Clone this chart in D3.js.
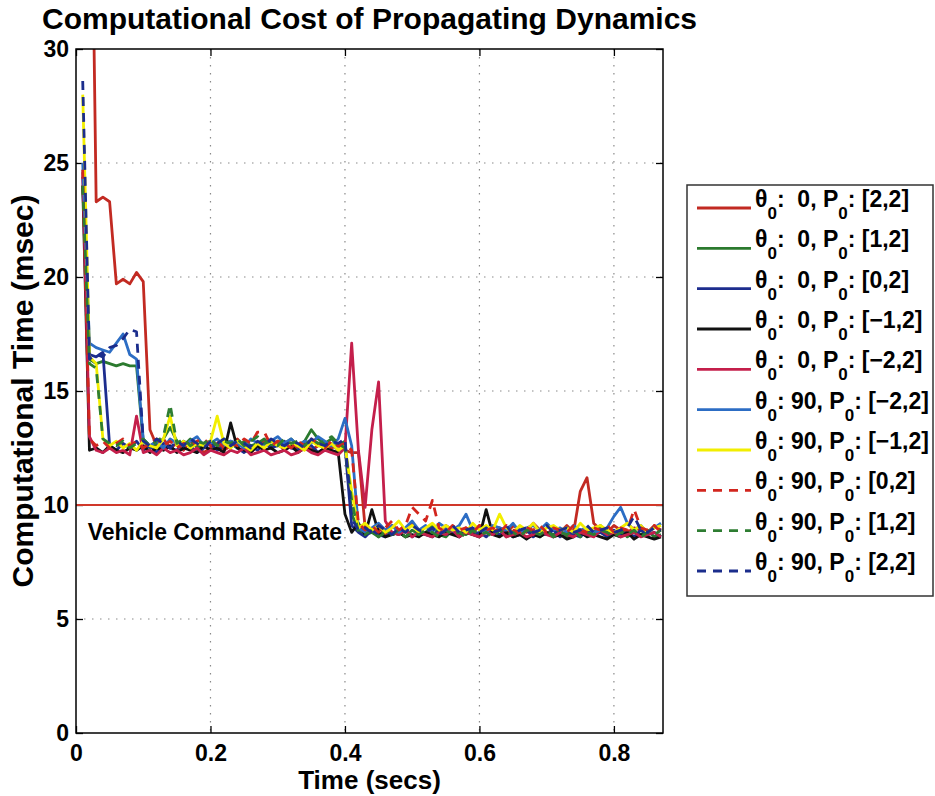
<!DOCTYPE html>
<html>
<head>
<meta charset="utf-8">
<script src="https://cdn.jsdelivr.net/npm/d3@7/dist/d3.min.js"></script>
<style>
  html, body { margin: 0; padding: 0; background: #fff; }
  svg { display: block; }
  text { font-family: "Liberation Sans", Arial, Helvetica, sans-serif; font-weight: bold; fill: #000; }
</style>
</head>
<body>
<svg id="chart" width="935" height="796"></svg>
<script>
// Sample times (s)
const times = [0.01,0.02,0.03,0.04,0.05,0.06,0.07,0.08,0.09,0.10,
  0.11,0.12,0.13,0.14,0.15,0.16,0.17,0.18,0.19,0.20,
  0.21,0.22,0.23,0.24,0.25,0.26,0.27,0.28,0.29,0.30,
  0.31,0.32,0.33,0.34,0.35,0.36,0.37,0.38,0.39,0.40,
  0.41,0.42,0.43,0.44,0.45,0.46,0.47,0.48,0.49,0.50,
  0.51,0.52,0.53,0.54,0.55,0.56,0.57,0.58,0.59,0.60,
  0.61,0.62,0.63,0.64,0.65,0.66,0.67,0.68,0.69,0.70,
  0.71,0.72,0.73,0.74,0.75,0.76,0.77,0.78,0.79,0.80,
  0.81,0.82,0.83,0.84,0.85,0.86,0.87];

// Computational time (msec) per run
const th0_p22 = [null,45,23.3,23.5,23.3,19.7,19.9,19.7,20.2,19.8,
  13.3,12.6,12.9,12.5,12.7,12.4,12.8,12.6,12.3,12.5,
  12.7,12.4,12.6,12.9,12.5,12.3,12.6,12.8,12.5,12.7,
  12.4,12.6,12.5,12.8,12.4,12.6,12.7,12.5,12.6,12.4,
  12.3,12.3,9.0,8.8,9.0,8.7,9.1,8.9,8.8,9.2,
  8.9,8.7,9.0,8.8,9.1,8.9,8.7,9.0,8.8,9.1,
  8.9,8.8,9.0,8.7,9.1,8.9,8.8,9.2,8.9,8.7,
  9.0,8.8,9.1,8.8,10.6,11.2,9.2,8.9,8.8,9.1,
  8.9,8.8,9.0,8.9,8.8,9.1,8.9];
const th0_p12 = [24.0,16.4,16.2,16.3,16.2,16.1,16.2,16.1,16.1,12.8,
  12.5,12.7,12.9,13.4,12.8,12.6,12.9,12.5,12.7,12.8,
  12.6,12.9,12.7,12.5,12.8,12.6,12.7,12.9,12.6,12.8,
  12.7,12.9,12.6,12.8,13.3,12.9,12.7,12.9,12.6,12.8,
  9.6,8.9,8.7,8.8,8.6,8.9,8.7,8.8,8.6,8.9,
  8.7,8.8,9.1,8.7,8.6,8.9,8.8,8.7,8.9,8.6,
  8.8,8.7,8.9,8.6,8.8,8.7,8.9,8.8,8.6,8.8,
  8.7,8.9,8.6,8.8,8.7,8.9,8.8,9.1,8.7,8.8,
  8.9,8.6,8.8,8.7,8.9,8.6,8.7];
const th0_p02 = [24.4,16.6,16.5,16.7,12.6,12.4,12.7,12.5,12.8,12.4,
  12.6,12.3,12.7,12.5,12.4,12.8,12.6,12.3,12.5,12.7,
  12.4,12.6,12.8,12.5,12.3,12.6,12.4,12.7,12.5,12.6,
  12.8,12.5,12.4,12.7,12.6,12.3,12.5,12.7,12.4,12.6,
  9.1,8.8,8.6,8.9,8.7,8.6,8.8,8.7,8.9,8.6,
  8.8,8.7,8.6,8.9,8.7,8.8,8.6,8.9,8.7,8.8,
  8.6,8.9,8.7,8.8,8.6,8.7,8.9,8.6,8.8,8.7,
  8.9,8.6,8.8,8.7,8.6,8.9,8.7,8.8,8.6,8.9,
  8.7,8.8,8.6,8.9,8.7,8.8,8.6];
const th0_pm12 = [24.0,12.4,12.5,12.3,12.6,12.4,12.3,12.5,12.4,12.6,
  12.3,12.5,12.4,12.6,12.3,12.5,12.4,12.3,12.6,12.4,
  12.5,12.3,13.6,12.5,12.4,12.3,12.6,12.4,12.5,12.3,
  12.4,12.6,12.3,12.5,12.4,12.3,12.5,12.4,12.3,9.6,
  8.8,9.2,8.7,9.8,8.8,8.6,8.7,8.8,8.6,8.7,
  8.6,8.8,8.7,8.6,8.8,8.7,8.6,8.8,8.7,8.6,
  9.8,8.7,8.6,8.8,8.6,8.7,8.5,8.7,8.6,8.8,
  8.6,8.7,8.5,8.6,8.8,8.6,8.7,8.6,8.5,8.7,
  8.6,8.8,8.5,8.7,8.6,8.5,8.6];
const th0_pm22 = [24.6,13.0,12.4,12.3,12.5,12.3,12.4,12.2,13.9,12.3,
  12.4,12.2,12.5,12.3,12.4,12.2,12.3,12.5,12.2,12.4,
  12.3,12.2,12.4,12.3,12.5,12.2,12.3,12.4,12.2,12.3,
  12.4,12.2,12.3,12.5,12.3,12.2,12.4,12.3,12.2,12.5,
  17.1,12.4,9.9,13.3,15.4,9.3,8.8,8.7,8.9,8.6,
  8.8,8.7,8.6,8.8,8.7,8.9,8.6,8.8,8.7,8.6,
  8.8,8.7,8.9,8.6,8.7,8.8,8.6,8.7,8.9,8.7,
  8.6,8.8,8.7,8.6,8.8,8.7,8.6,8.9,8.7,8.8,
  8.6,8.7,8.8,8.6,8.7,8.8,8.6];
const th90_pm22 = [25.0,17.1,16.9,16.8,16.7,17.1,17.5,16.6,16.4,12.9,
  12.6,12.8,12.5,12.9,12.7,12.6,12.8,13.0,12.6,12.7,
  12.9,12.6,12.8,12.7,12.5,12.9,12.7,12.6,12.8,13.0,
  12.7,12.9,12.6,12.8,12.7,13.0,12.8,12.6,12.9,13.8,
  12.6,9.0,8.8,9.0,9.2,8.9,9.1,8.8,9.0,9.3,
  8.9,9.1,8.8,9.2,9.0,8.9,9.1,9.6,8.9,9.0,
  8.8,9.1,9.0,8.9,9.2,8.8,9.0,9.1,8.9,9.2,
  8.9,9.0,8.8,9.1,8.9,9.0,8.8,8.9,9.0,9.5,
  9.9,9.2,8.9,9.1,8.8,9.0,9.2];
const th90_pm12 = [28.0,16.5,16.2,12.9,12.6,12.8,12.5,12.7,12.4,12.8,
  12.6,12.5,12.9,13.9,12.6,12.8,12.5,12.7,12.6,12.8,
  13.9,12.7,12.5,12.8,12.6,12.4,12.7,12.5,12.8,12.6,
  12.5,12.7,12.6,12.4,12.8,12.6,12.5,12.7,12.4,12.6,
  10.6,9.0,9.2,8.9,9.1,8.8,9.0,9.3,8.9,9.1,
  8.8,9.0,9.2,8.9,9.1,8.9,9.0,8.8,9.2,8.9,
  9.1,8.9,9.6,9.0,8.8,9.1,8.9,9.2,8.8,9.0,
  9.1,8.9,9.0,8.8,9.2,8.9,9.0,9.1,8.9,8.8,
  9.0,9.2,8.9,9.1,8.8,9.0,9.1];
const th90_p02 = [24.7,12.9,12.6,12.8,12.5,12.7,12.9,12.6,12.8,12.5,
  12.7,12.9,12.6,12.8,12.5,12.7,12.6,12.8,12.9,12.6,
  12.8,12.5,12.7,12.6,12.9,12.7,13.2,13.2,12.6,12.8,
  12.7,12.5,12.8,12.6,12.9,12.7,12.5,12.8,12.6,12.7,
  12.4,9.2,8.9,9.1,8.8,9.0,9.3,8.9,9.1,9.9,
  9.6,9.3,10.2,9.0,8.8,9.1,8.9,9.0,8.8,9.1,
  8.9,9.0,8.8,9.1,8.9,8.8,9.0,8.9,9.1,8.8,
  9.0,8.9,8.8,9.1,8.9,8.8,9.0,8.9,9.1,8.8,
  9.0,8.9,9.8,9.0,8.9,9.1,8.8];
const th90_p12 = [24.0,16.2,16.0,12.9,12.7,12.6,12.8,12.5,12.7,12.9,
  12.6,12.8,13.0,14.4,12.7,12.9,12.6,12.8,12.7,12.9,
  12.6,12.8,12.7,12.9,12.6,12.8,13.0,12.7,12.8,12.6,
  12.9,12.7,12.8,12.6,12.9,12.7,12.8,13.0,12.7,12.5,
  10.2,8.8,8.7,8.9,8.6,8.8,8.7,8.9,8.6,8.8,
  8.7,8.9,8.8,8.6,8.9,8.7,8.8,8.6,8.9,8.7,
  8.8,8.6,8.9,8.7,8.8,8.6,8.9,8.8,8.7,8.9,
  8.6,8.8,8.7,8.9,8.6,8.8,8.7,8.9,8.8,8.6,
  8.8,8.7,8.9,8.6,8.8,8.7,8.9];
const th90_p22 = [28.6,16.4,16.6,16.5,16.9,17.0,17.3,17.7,17.6,12.8,
  12.6,12.9,12.7,12.5,12.8,12.6,12.9,12.7,12.5,12.8,
  12.7,12.9,12.6,12.8,12.7,12.5,12.8,12.6,12.9,12.7,
  12.6,12.8,12.7,12.5,12.9,12.7,12.6,12.8,12.7,12.9,
  9.4,8.9,9.0,8.8,9.1,8.9,8.7,9.0,8.8,9.1,
  8.9,8.8,9.0,8.7,8.9,9.1,8.8,8.9,9.0,8.8,
  9.0,8.8,8.9,9.1,8.7,8.9,9.0,8.8,8.9,9.1,
  8.8,8.9,9.0,8.8,8.9,9.1,8.8,8.9,9.0,8.8,
  8.9,9.0,9.5,8.9,8.8,9.0,8.9];

// Legend entries
const theta0 = ["0", "0", "0", "0", "0", "90", "90", "90", "90", "90"];
const p0 = ["[2,2]", "[1,2]", "[0,2]", "[\u22121,2]", "[\u22122,2]", "[\u22122,2]", "[\u22121,2]", "[0,2]", "[1,2]", "[2,2]"];
const runs = [th0_p22, th0_p12, th0_p02, th0_pm12, th0_pm22, th90_pm22, th90_pm12, th90_p02, th90_p12, th90_p22];
const colors = ["#c22a22", "#2b7a2e", "#1d2d8e", "#111111", "#c41f4b", "#2c6dc4", "#f2ee00", "#d2261e", "#2e7d32", "#1b2d8c"];
const dashed = [false, false, false, false, false, false, false, true, true, true];

const commandRate = 10;            // msec
const xTicks = [0, 0.2, 0.4, 0.6, 0.8];
const yTicks = [0, 5, 10, 15, 20, 25, 30];

const svg = d3.select("#chart");
const L = 76, R = 663, T = 49, B = 733;

const x = d3.scaleLinear().domain([0, 0.873]).range([L, R]);
const y = d3.scaleLinear().domain([0, 30]).range([B, T]);

// Title
svg.append("text").attr("x", (L + R) / 2).attr("y", 29)
  .attr("text-anchor", "middle").style("font-size", "30px")
  .text("Computational Cost of Propagating Dynamics");

// Grid
const grid = svg.append("g").attr("stroke", "#8a8a8a").attr("stroke-width", 1.2)
  .attr("stroke-dasharray", "1.5,6.5");
grid.selectAll("line.gx").data(xTicks.filter(d => d > 0)).join("line")
  .attr("x1", d => x(d)).attr("x2", d => x(d)).attr("y1", T).attr("y2", B);
grid.selectAll("line.gy").data(yTicks.filter(d => d > 0 && d < 30)).join("line")
  .attr("x1", L).attr("x2", R).attr("y1", d => y(d)).attr("y2", d => y(d));

// Axes with inward ticks
const tickLen = 7;
svg.append("g").attr("transform", `translate(0,${B})`)
  .call(d3.axisBottom(x).tickValues(xTicks).tickSizeInner(-tickLen).tickSizeOuter(0).tickPadding(12).tickFormat(d => d === 0 ? "0" : d3.format(".1f")(d)))
  .call(g => g.select(".domain").remove())
  .call(g => g.selectAll("text").style("font-size", "23px").attr("fill", "#000"))
  .call(g => g.selectAll("line").attr("stroke", "#000").attr("stroke-width", 1.3));
svg.append("g").attr("transform", `translate(0,${T})`)
  .call(d3.axisTop(x).tickValues(xTicks).tickSizeInner(-tickLen).tickSizeOuter(0).tickFormat(""))
  .call(g => g.select(".domain").remove())
  .call(g => g.selectAll("line").attr("stroke", "#000").attr("stroke-width", 1.3));
svg.append("g").attr("transform", `translate(${L},0)`)
  .call(d3.axisLeft(y).tickValues(yTicks).tickSizeInner(-tickLen).tickSizeOuter(0).tickPadding(7))
  .call(g => g.select(".domain").remove())
  .call(g => g.selectAll("text").style("font-size", "23px").attr("fill", "#000"))
  .call(g => g.selectAll("line").attr("stroke", "#000").attr("stroke-width", 1.3));
svg.append("g").attr("transform", `translate(${R},0)`)
  .call(d3.axisRight(y).tickValues(yTicks).tickSizeInner(-tickLen).tickSizeOuter(0).tickFormat(""))
  .call(g => g.select(".domain").remove())
  .call(g => g.selectAll("line").attr("stroke", "#000").attr("stroke-width", 1.3));

// Axis labels
svg.append("text").attr("x", (L + R) / 2).attr("y", 789)
  .attr("text-anchor", "middle").style("font-size", "26px").text("Time (secs)");
svg.append("text").attr("transform", `translate(33,${(T + B) / 2}) rotate(-90)`)
  .attr("text-anchor", "middle").style("font-size", "30px").text("Computational Time (msec)");

// Plot-area clip
svg.append("clipPath").attr("id", "plotclip").append("rect")
  .attr("x", L).attr("y", T).attr("width", R - L).attr("height", B - T);

const plot = svg.append("g").attr("clip-path", "url(#plotclip)");

// Command-rate reference line
plot.append("line").attr("x1", L).attr("x2", R)
  .attr("y1", y(commandRate)).attr("y2", y(commandRate))
  .attr("stroke", "#d0382a").attr("stroke-width", 2);

const line = d3.line()
  .defined(d => d[1] !== null)
  .x(d => x(d[0])).y(d => y(d[1]));

runs.forEach((vals, i) => {
  plot.append("path")
    .datum(times.map((t, k) => [t, vals[k]]))
    .attr("fill", "none")
    .attr("stroke", colors[i])
    .attr("stroke-width", 2.8)
    .attr("stroke-linejoin", "round")
    .attr("stroke-dasharray", dashed[i] ? "9,7" : null)
    .attr("d", line);
});

svg.append("text").attr("x", 342).attr("y", 540).attr("text-anchor", "end")
  .style("font-size", "23px").text("Vehicle Command Rate");

// Plot frame
svg.append("rect").attr("x", L).attr("y", T).attr("width", R - L).attr("height", B - T)
  .attr("fill", "none").attr("stroke", "#000").attr("stroke-width", 1.5);

// Legend
const lg = svg.append("g");
lg.append("rect").attr("x", 687).attr("y", 185).attr("width", 246).attr("height", 411)
  .attr("fill", "#fff").attr("stroke", "#333").attr("stroke-width", 1.5);
const rowY = d3.scaleLinear().domain([0, 9]).range([208, 571]);
runs.forEach((_, i) => {
  const yy = rowY(i);
  lg.append("line").attr("x1", 697).attr("x2", 751).attr("y1", yy).attr("y2", yy)
    .attr("stroke", colors[i]).attr("stroke-width", 2.8)
    .attr("stroke-dasharray", dashed[i] ? "9,7" : null);
  const t = lg.append("text").attr("x", 755).attr("y", yy - 1)
    .style("font-size", "23px").style("white-space", "pre");
  t.append("tspan").text("\u03b8");
  t.append("tspan").attr("dy", 12).style("font-size", "17px").text("0");
  t.append("tspan").attr("dy", -12).text(theta0[i].length === 1 ? ":  " + theta0[i] + ", P" : ": " + theta0[i] + ", P");
  t.append("tspan").attr("dy", 12).style("font-size", "17px").text("0");
  t.append("tspan").attr("dy", -12).text(": " + p0[i]);
});
</script>
</body>
</html>
